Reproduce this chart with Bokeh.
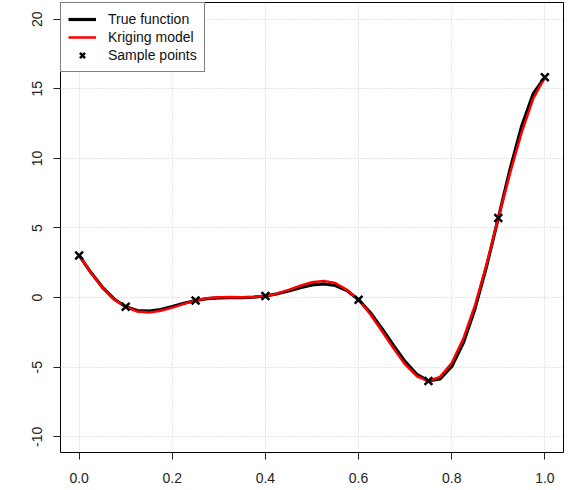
from bokeh.plotting import figure
from bokeh.models import Range1d, FixedTicker, ColumnDataSource
from bokeh.embed import file_html
from bokeh.resources import INLINE

# Grid of x values for curves
x_grid = [0.0, 0.025, 0.05, 0.075, 0.1, 0.125, 0.15, 0.175, 0.2, 0.225, 0.25,
          0.275, 0.3, 0.325, 0.35, 0.375, 0.4, 0.425, 0.45, 0.475, 0.5,
          0.525, 0.55, 0.575, 0.6, 0.625, 0.65, 0.675, 0.7, 0.725, 0.75,
          0.775, 0.8, 0.825, 0.85, 0.875, 0.9, 0.925, 0.95, 0.975, 1.0]

true_y = [3.027, 1.813, 0.738, -0.100, -0.657, -0.935, -0.978, -0.854, -0.640, -0.407, -0.210,
          -0.079, -0.016, -0.000, 0.002, 0.030, 0.115, 0.270, 0.483, 0.717, 0.909,
          0.986, 0.871, 0.503, -0.150, -1.074, -2.209, -3.439, -4.606, -5.522, -5.993,
          -5.845, -4.949, -3.253, -0.799, 2.272, 5.712, 9.187, 12.303, 14.648, 15.830]

kriging_y = [3.027, 1.80, 0.70, -0.15, -0.657, -1.00, -1.08, -0.95, -0.72, -0.45, -0.210,
             -0.05, 0.02, 0.04, 0.03, 0.05, 0.115, 0.28, 0.55, 0.85, 1.10,
             1.20, 1.05, 0.55, -0.150, -1.20, -2.40, -3.65, -4.80, -5.65, -5.993,
             -5.70, -4.70, -2.95, -0.55, 2.40, 5.712, 8.90, 11.85, 14.30, 15.830]

sample_x = [0.0, 0.1, 0.25, 0.4, 0.6, 0.75, 0.9, 1.0]
sample_y = [3.027, -0.657, -0.210, 0.115, -0.150, -5.993, 5.712, 15.830]

x_ticks = [0.0, 0.2, 0.4, 0.6, 0.8, 1.0]
x_tick_labels = ["0.0", "0.2", "0.4", "0.6", "0.8", "1.0"]
y_ticks = [-10, -5, 0, 5, 10, 15, 20]
y_tick_labels = ["-10", "-5", "0", "5", "10", "15", "20"]

FONT = "Liberation Sans"

p = figure(frame_width=503, frame_height=450,
           min_border_left=60, min_border_right=4,
           min_border_top=2, min_border_bottom=36,
           x_range=Range1d(-0.04, 1.04), y_range=Range1d(-11.13, 21.2),
           output_backend="svg", toolbar_location=None,
           background_fill_color="white", border_fill_color="white")

p.outline_line_color = "black"
p.outline_line_width = 1

for ax in (p.xaxis[0], p.yaxis[0]):
    ax.axis_line_color = None
    ax.major_tick_line_color = "#222222"
    ax.major_tick_in = 0
    ax.major_tick_out = 7
    ax.minor_tick_line_color = None
    ax.major_label_text_font = FONT
    ax.major_label_text_font_size = "14px"
    ax.major_label_text_color = "#222222"

p.xaxis.ticker = FixedTicker(ticks=x_ticks)
p.xaxis.major_label_overrides = {t: l for t, l in zip(x_ticks, x_tick_labels)}
p.xaxis.major_label_standoff = 13
p.yaxis.ticker = FixedTicker(ticks=y_ticks)
p.yaxis.major_label_overrides = {t: l for t, l in zip(y_ticks, y_tick_labels)}
p.yaxis.major_label_orientation = "vertical"
p.yaxis.major_label_standoff = 11

p.xgrid.ticker = FixedTicker(ticks=x_ticks)
p.ygrid.ticker = FixedTicker(ticks=y_ticks)
for g in (p.xgrid[0], p.ygrid[0]):
    g.grid_line_color = "#cccccc"
    g.grid_line_dash = "1 2"
    g.grid_line_width = 1

src = ColumnDataSource(dict(x=x_grid, t=true_y, k=kriging_y))
p.line("x", "t", source=src, line_color="black", line_width=3.2, legend_label="True function")
p.line("x", "k", source=src, line_color="#ff0000", line_width=2.5, legend_label="Kriging model")
p.scatter(sample_x, sample_y, marker="x", size=11, line_color="black", line_width=2.5,
          legend_label="Sample points")

lg = p.legend[0]
lg.location = "top_left"
lg.margin = 0
lg.padding = 7
lg.spacing = 0
lg.border_line_color = "black"
lg.border_line_width = 1
lg.background_fill_color = "white"
lg.background_fill_alpha = 1.0
lg.label_text_font = FONT
lg.label_text_font_size = "14px"
lg.label_text_color = "#111111"
lg.label_height = 18
lg.glyph_height = 18
lg.glyph_width = 28
lg.label_standoff = 12

open("out.html", "w").write(file_html(p, INLINE))
